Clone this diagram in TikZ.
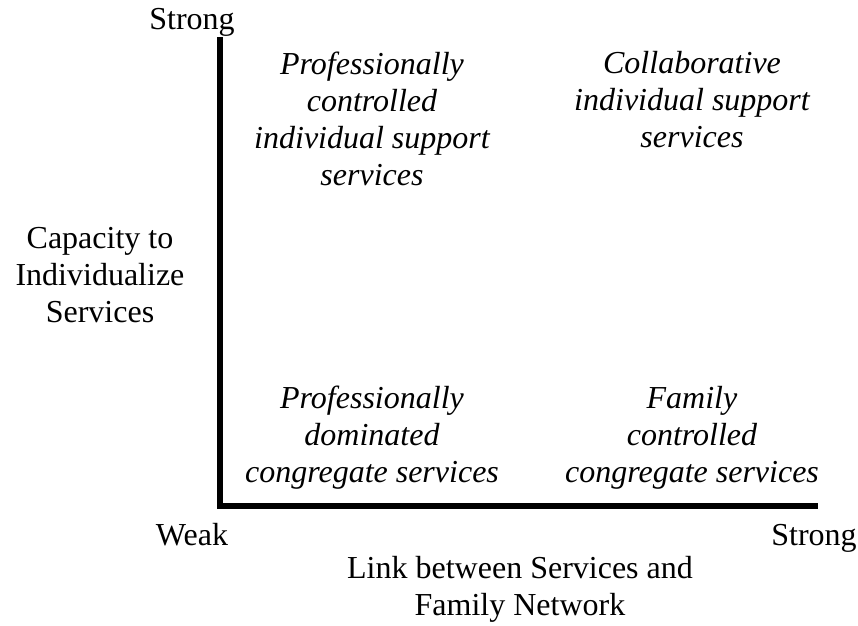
\documentclass[tikz,border=0pt]{standalone}
\usepackage{fontspec}
\setmainfont{Liberation Serif}
\usepackage{tikz}
\usetikzlibrary{positioning}

\begin{document}
\begin{tikzpicture}[
    x=1pt,y=-1pt,
    axistext/.style={font=\fontsize{32}{37}\selectfont,align=center,anchor=base,inner sep=0pt},
    quadtext/.style={font=\fontsize{32}{37}\selectfont\itshape,align=center,anchor=base,inner sep=0pt},
    axis/.style={line width=5.5pt}
]
    \useasboundingbox (0,0) rectangle (858,625);
    \coordinate (ytop) at (220,37);
    \coordinate (xend) at (818,506);

    % base anchor sits on the last line
    \node[axistext] (ystrong) at (192,29) {Strong};
    \node[axistext] (xweak) at (192,545) {Weak};
    \node[axistext] (xstrong) at (814,545) {Strong};
    \node[axistext] (ylabel) at (100,322) {Capacity to\\Individualize\\Services};
    \node[axistext] (xlabel) at (520,615) {Link between Services and\\Family Network};

    \node[quadtext] (proctrl) at (372,185) {Professionally\\controlled\\individual support\\services};
    \node[quadtext] (collab) at (692,147) {Collaborative\\individual support\\services};
    \node[quadtext] (prodom) at (372,482) {Professionally\\dominated\\congregate services};
    \node[quadtext] (famctrl) at (692,482) {Family\\controlled\\congregate services};

    \draw[axis] (ytop) |- (xend);
\end{tikzpicture}
\end{document}
